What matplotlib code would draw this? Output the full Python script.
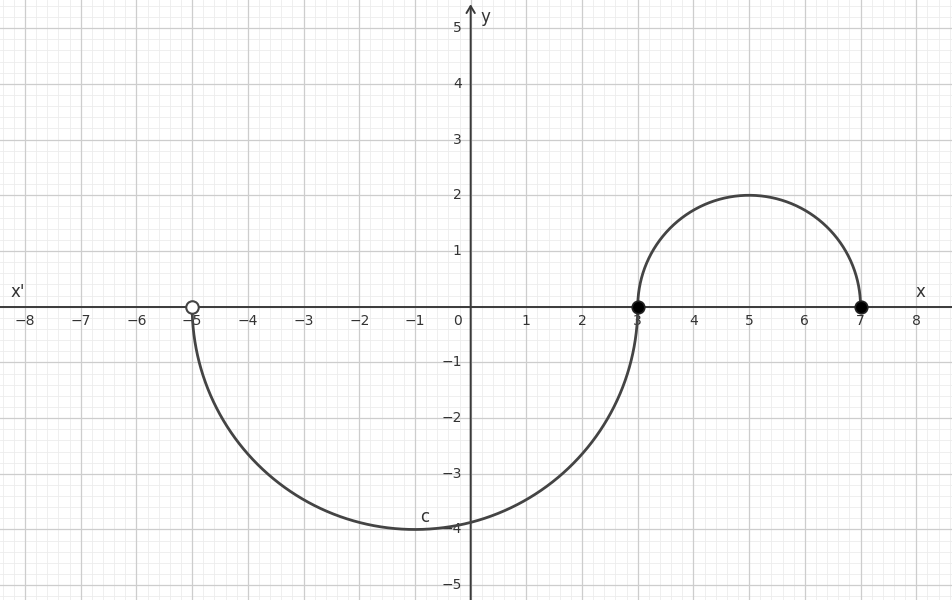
import numpy as np
import matplotlib
matplotlib.use("Agg")
import matplotlib.pyplot as plt

# ---- data ----
x_ticks = [-8, -7, -6, -5, -4, -3, -2, -1, 1, 2, 3, 4, 5, 6, 7, 8]
y_ticks = [-5, -4, -3, -2, -1, 1, 2, 3, 4, 5]
arc_centers = [(-1, 0), (5, 0)]
arc_radii = [4, 2]
arc_angles = [(180, 360), (0, 180)]  # degrees: lower semicircle, upper semicircle
open_points = [(-5, 0)]
closed_points = [(3, 0), (7, 0)]
curve_label = ("c", -0.83, -3.78)

xlim = (-8.45, 8.66)
ylim = (-5.266, 5.506)

fig = plt.figure(figsize=(9.53, 6.0), dpi=100)
ax = fig.add_axes([0, 0, 1, 1])
ax.set_xlim(*xlim)
ax.set_ylim(*ylim)
ax.axis("off")

# grid
for v in np.arange(-9, 9.01, 0.2):
    if abs(v - round(v)) > 1e-6:
        ax.axvline(v, color="#ececec", lw=0.6, zorder=0)
        ax.axhline(v, color="#ececec", lw=0.6, zorder=0)
for v in range(-9, 10):
    ax.axvline(v, color="#cdcdcd", lw=0.9, zorder=0.5)
    ax.axhline(v, color="#cdcdcd", lw=0.9, zorder=0.5)

# axes
ax.plot(xlim, [0, 0], color="#3a3a3a", lw=1.4, zorder=2)
ax.annotate("", xy=(0, 5.43), xytext=(0, ylim[0]),
            arrowprops=dict(arrowstyle="->,head_length=0.5,head_width=0.3",
                            color="#3a3a3a", lw=1.4, shrinkA=0, shrinkB=0),
            zorder=2)

# tick labels
for t in x_ticks:
    ax.text(t, -0.14, f"{t}".replace("-", "\u2212"), ha="center", va="top",
            fontsize=10, color="#333333", zorder=3)
for t in y_ticks:
    ax.text(-0.16, t, f"{t}".replace("-", "\u2212"), ha="right", va="center",
            fontsize=10, color="#333333", zorder=3)
ax.text(-0.16, -0.14, "0", ha="right", va="top", fontsize=10, color="#333333", zorder=3)

# axis names
ax.text(-8.13, 0.1, "x'", ha="center", va="bottom", fontsize=12, color="#333333")
ax.text(8.07, 0.1, "x", ha="center", va="bottom", fontsize=12, color="#333333")
ax.text(0.27, 5.2, "y", ha="center", va="center", fontsize=12, color="#333333")

# curve
for (cx, cy), r, (a0, a1) in zip(arc_centers, arc_radii, arc_angles):
    th = np.radians(np.linspace(a0, a1, 400))
    ax.plot(cx + r * np.cos(th), cy + r * np.sin(th), color="#444444", lw=2.0,
            zorder=4, solid_capstyle="round")

for px, py in closed_points:
    ax.plot(px, py, "o", ms=9, mfc="black", mec="#222222", mew=1.2, zorder=5)
for px, py in open_points:
    ax.plot(px, py, "o", ms=9, mfc="white", mec="#444444", mew=1.5, zorder=5)

ax.text(curve_label[1], curve_label[2], curve_label[0], ha="center", va="center",
        fontsize=12, color="#333333", zorder=5)

fig.savefig("out.png", dpi=100)
